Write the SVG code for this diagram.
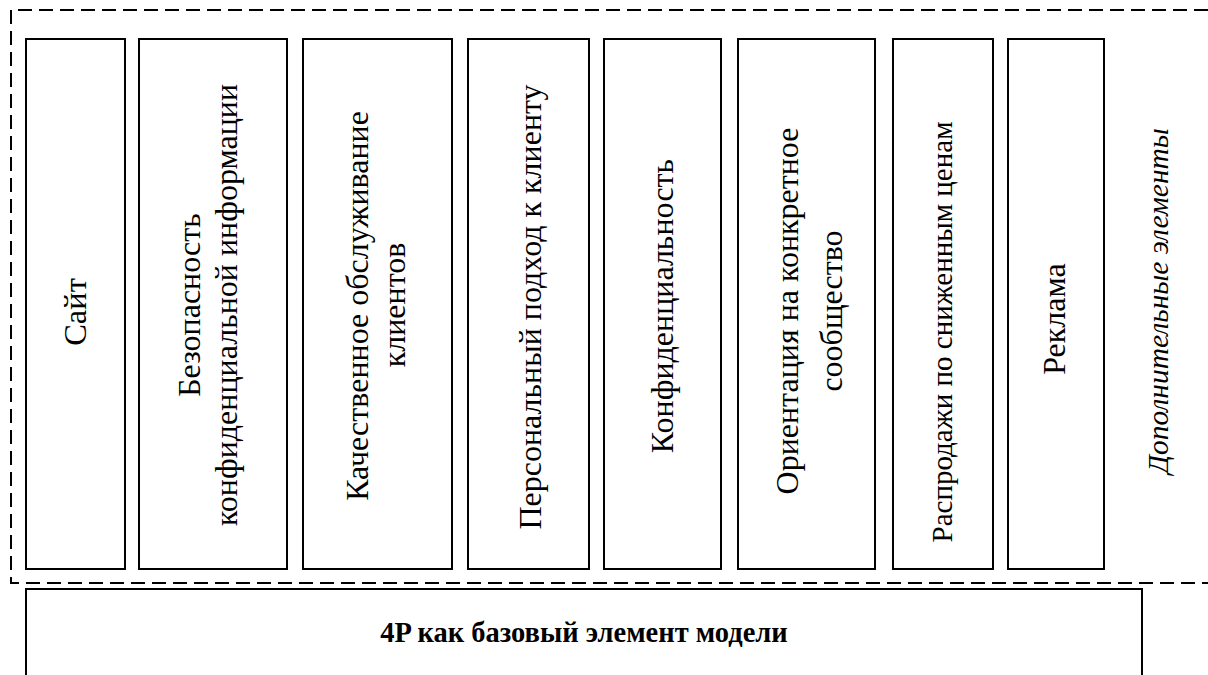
<svg xmlns="http://www.w3.org/2000/svg" width="1208" height="675" viewBox="0 0 1208 675">
<style>
.box{fill:#fff;stroke:#000;stroke-width:2}
.dash{fill:none;stroke:#000;stroke-width:2;stroke-dasharray:14 7}
.t{font-family:'Liberation Serif',Tinos,'Times New Roman',serif;font-size:32px;fill:#000;text-anchor:middle}
.b{font-weight:bold;font-size:28.5px}
.i{font-style:italic;font-size:29.5px}
.s{font-size:29px}
</style>
<rect width="1208" height="675" fill="#fff"/>
<g id="connectors">
<path class="dash" d="M1208,10 H11 V583 H1208"/>
</g>
<g id="n1"><rect class="box" x="26" y="39" width="99" height="530"/>
<text class="t" style="font-size:32.5px" transform="translate(86,312) rotate(-90)">Сайт</text></g>
<g id="n2"><rect class="box" x="139" y="39" width="148" height="530"/>
<text class="t" transform="translate(200,305) rotate(-90)">Безопасность</text>
<text class="t" transform="translate(237,305) rotate(-90)">конфиденциальной информации</text></g>
<g id="n3"><rect class="box" x="303" y="39" width="149" height="530"/>
<text class="t" transform="translate(368,306) rotate(-90)">Качественное обслуживание</text>
<text class="t" transform="translate(405,305) rotate(-90)">клиентов</text></g>
<g id="n4"><rect class="box" x="468" y="39" width="121" height="530"/>
<text class="t" transform="translate(541,307) rotate(-90)">Персональный подход к клиенту</text></g>
<g id="n5"><rect class="box" x="604" y="39" width="117" height="530"/>
<text class="t" transform="translate(673,306) rotate(-90)">Конфиденциальность</text></g>
<g id="n6"><rect class="box" x="738" y="39" width="137" height="530"/>
<text class="t" transform="translate(798,311) rotate(-90)">Ориентация на конкретное</text>
<text class="t" transform="translate(842,311) rotate(-90)">сообщество</text></g>
<g id="n7"><rect class="box" x="893" y="39" width="100" height="530"/>
<text class="t s" transform="translate(952,332) rotate(-90)">Распродажи по сниженным ценам</text></g>
<g id="n8"><rect class="box" x="1008" y="39" width="96" height="530"/>
<text class="t" transform="translate(1065,319) rotate(-90)">Реклама</text></g>
<g id="n9"><text class="t i" transform="translate(1168,301) rotate(-90)">Дополнительные элементы</text></g>
<g id="n10"><rect class="box" x="26" y="589" width="1116" height="120"/>
<text class="t b" x="584" y="642">4P как базовый элемент модели</text></g>
</svg>
